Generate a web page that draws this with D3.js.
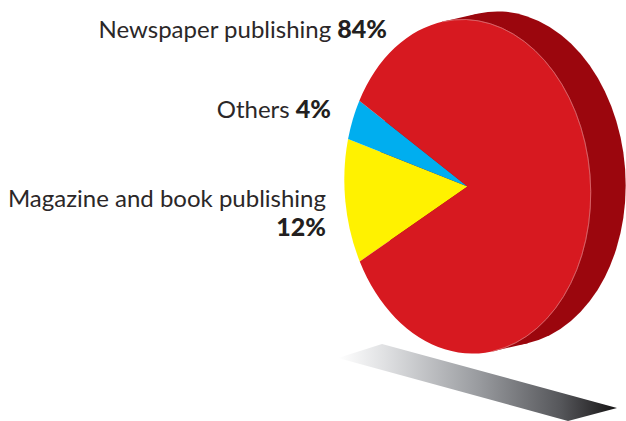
<!DOCTYPE html>
<html>
<head>
<meta charset="utf-8">
<script src="https://cdn.jsdelivr.net/npm/d3@7"></script>
<style>
html,body{margin:0;padding:0;background:#fff}
svg{display:block}
text{font-family:Lato,"Open Sans",sans-serif;fill:#2b2728;font-size:24px}
.val{font-weight:900;font-size:25px;fill:#231f20}
</style>
</head>
<body>
<svg id="chart" width="626" height="421"></svg>
<script>
// Revenue share by segment, clockwise from the lower left of the disc
const segments = ["Magazine and book publishing", "Others", "Newspaper publishing"];
const shares = [12, 4, 84];
const colors = ["#fff200", "#00aeef", "#d71920"];
const sideColor = "#9b060d";

const svg = d3.select("#chart");

// The disc is a circle of radius R pushed through a skew into perspective
const R = 100;
const cx = 467.5, cy = 186.5;
const m = {a: 123.2 / R, b: 6.8 / R, d: 166.9 / R};
const depth = {x: 35, y: -8};
const discTransform = (dx, dy) => `matrix(${m.a} ${m.b} 0 ${m.d} ${cx + dx} ${cy + dy})`;

// Shadow on the ground, fading to white on the left
const defs = svg.append("defs");
const grad = defs.append("linearGradient")
  .attr("id", "ground").attr("gradientUnits", "userSpaceOnUse")
  .attr("x1", 338).attr("y1", 0).attr("x2", 617).attr("y2", 0);
[[0, "#ffffff"], [0.17, "#dfe0e2"], [0.5, "#9a9ca0"], [0.8, "#55565a"], [1, "#151314"]]
  .forEach(([o, c]) => grad.append("stop").attr("offset", o).attr("stop-color", c));
svg.append("path")
  .attr("d", d3.line()([[338, 358], [382, 344], [617, 408], [568, 421]]) + "Z")
  .attr("fill", "url(#ground)");

// Extruded side: back rim, plus the band joining it to the front rim at the tangent points
const fullDisc = d3.arc().innerRadius(0).outerRadius(R).startAngle(0).endAngle(2 * Math.PI);
const back = svg.append("g").attr("fill", sideColor);
back.append("path").attr("transform", discTransform(depth.x, depth.y)).attr("d", fullDisc());
const du = depth.x / m.a;
const dv = (depth.y - m.b * du) / m.d;
const len = Math.hypot(du, dv);
const tip = [dv / len * R, -du / len * R];
const band = [tip, [tip[0] + du, tip[1] + dv], [-tip[0] + du, -tip[1] + dv], [-tip[0], -tip[1]]];
back.append("path").attr("transform", discTransform(0, 0)).attr("d", d3.line()(band) + "Z");

// Front face slices
const pie = d3.pie().sort(null)
  .startAngle(241 * Math.PI / 180)
  .endAngle((241 + 360) * Math.PI / 180);
const arc = d3.arc().innerRadius(0).outerRadius(R);
svg.append("g")
  .attr("transform", discTransform(0, 0))
  .selectAll("path")
  .data(pie(shares))
  .join("path")
  .attr("d", arc)
  .attr("fill", (d, i) => colors[i]);

// Light edge where the face meets the side
const edgeStart = Math.atan2(tip[0], -tip[1]);
svg.append("path")
  .attr("transform", discTransform(0, 0))
  .attr("d", d3.arc().innerRadius(R).outerRadius(R).startAngle(edgeStart).endAngle(edgeStart + Math.PI)())
  .attr("fill", "none")
  .attr("stroke", "#e07a7e")
  .attr("stroke-width", 0.35);

// Labels
const lab1 = svg.append("text").attr("x", 387).attr("y", 38).attr("text-anchor", "end");
lab1.append("tspan").text(segments[2] + " ");
lab1.append("tspan").attr("class", "val").text(shares[2] + "%");

const lab2 = svg.append("text").attr("x", 331).attr("y", 118).attr("text-anchor", "end");
lab2.append("tspan").text(segments[1] + " ");
lab2.append("tspan").attr("class", "val").text(shares[1] + "%");

svg.append("text").attr("x", 326).attr("y", 207).attr("text-anchor", "end").text(segments[0]);
svg.append("text").attr("class", "val").attr("x", 326).attr("y", 236).attr("text-anchor", "end").text(shares[0] + "%");
</script>
</body>
</html>
